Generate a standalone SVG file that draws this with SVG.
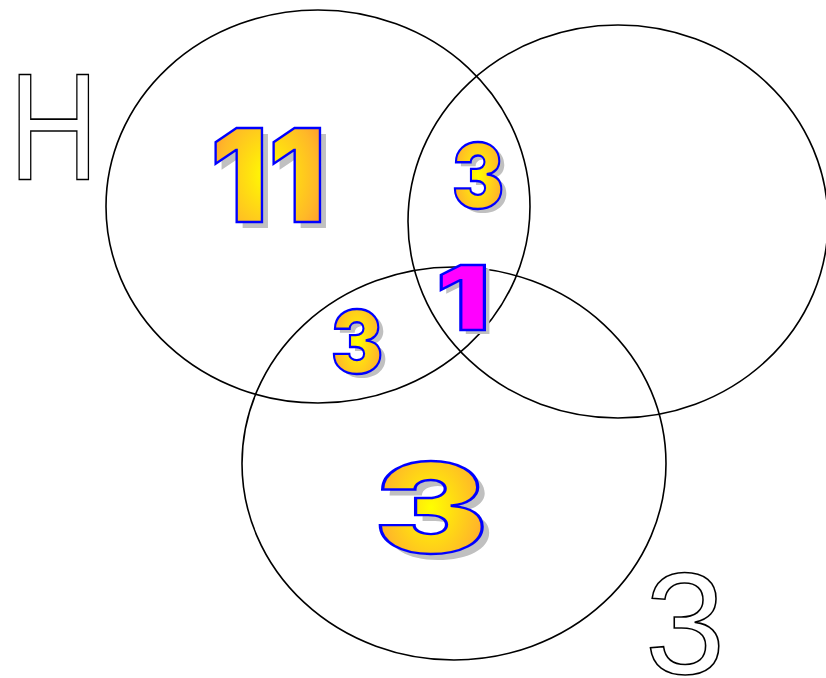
<svg xmlns="http://www.w3.org/2000/svg" width="826" height="678" viewBox="0 0 826 678">
<defs>
<radialGradient id="g" cx="0.5" cy="0.5" r="0.6">
<stop offset="0" stop-color="#ffff00"/>
<stop offset="0.3" stop-color="#ffe010"/>
<stop offset="0.7" stop-color="#ffb828"/>
<stop offset="1" stop-color="#ff9030"/>
</radialGradient>
</defs>
<style>
.c{fill:none;stroke:#000;stroke-width:1.6}
.num{font-family:Inter,"DejaVu Sans",sans-serif;font-weight:900}
.sh{fill:#c0c0c0}
.fg{fill:url(#g);stroke:#0000ff;stroke-width:2.4}
.mg{fill:#ff00ff;stroke:#0000ff;stroke-width:2.4}
.out{font-family:"Liberation Sans",Arial,sans-serif;fill:#fff;stroke:#000;stroke-width:1.6}
</style>
<g id="set-left"><ellipse class="c" cx="318" cy="206.5" rx="212" ry="196.5"/></g>
<g id="set-right"><ellipse class="c" cx="618" cy="221.5" rx="210" ry="196.5"/></g>
<g id="set-bottom"><ellipse class="c" cx="454" cy="463.5" rx="212" ry="196.5"/></g>
<g id="label-H"><text class="out" transform="translate(9,180) scale(0.81,1)" x="0" y="0" font-size="153">H</text></g>
<g id="label-3"><text class="out" x="645" y="674" font-size="144">3</text></g>
<g id="n11">
<text class="num sh" x="216" y="228" font-size="129" textLength="116" lengthAdjust="spacingAndGlyphs">11</text>
<text class="num fg" x="210" y="222" font-size="129" textLength="116" lengthAdjust="spacingAndGlyphs">11</text>
</g>
<g id="n3a">
<text class="num sh" x="457" y="212" font-size="89" textLength="52" lengthAdjust="spacingAndGlyphs">3</text>
<text class="num fg" x="452" y="208" font-size="89" textLength="52" lengthAdjust="spacingAndGlyphs">3</text>
</g>
<g id="n3b">
<text class="num sh" x="336" y="377" font-size="87" textLength="52" lengthAdjust="spacingAndGlyphs">3</text>
<text class="num fg" x="331" y="373" font-size="87" textLength="52" lengthAdjust="spacingAndGlyphs">3</text>
</g>
<g id="n1">
<text class="num sh" x="441" y="334" font-size="89" textLength="54" lengthAdjust="spacingAndGlyphs">1</text>
<text class="num mg" x="436" y="330" font-size="89" textLength="54" lengthAdjust="spacingAndGlyphs">1</text>
</g>
<g id="n3c">
<text class="num sh" x="381" y="559" font-size="125" textLength="114" lengthAdjust="spacingAndGlyphs">3</text>
<text class="num fg" x="374" y="553" font-size="125" textLength="114" lengthAdjust="spacingAndGlyphs">3</text>
</g>
</svg>
